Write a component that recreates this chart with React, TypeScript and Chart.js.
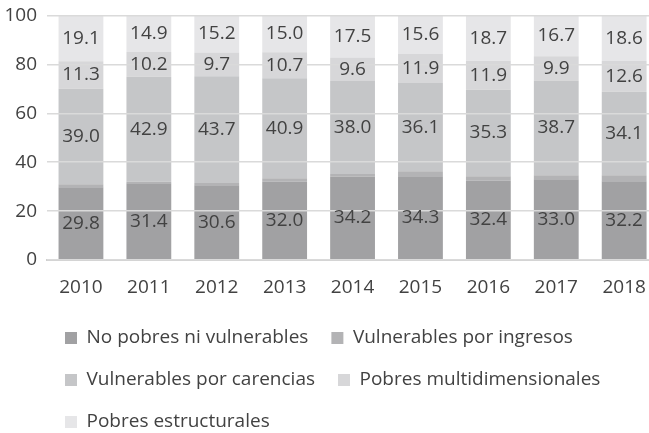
import React, { useEffect, useRef } from "react";
import { Chart, registerables } from "chart.js";

Chart.register(...registerables);

const years = ["2010", "2011", "2012", "2013", "2014", "2015", "2016", "2017", "2018"];
const noPobres = [29.8, 31.4, 30.6, 32.0, 34.2, 34.3, 32.4, 33.0, 32.2];
const vulnIngresos = [1.2, 0.6, 0.9, 1.4, 1.0, 2.0, 1.9, 1.7, 2.5];
const vulnCarencias = [39.0, 42.9, 43.7, 40.9, 38.0, 36.1, 35.3, 38.7, 34.1];
const pobresMulti = [11.3, 10.2, 9.7, 10.7, 9.6, 11.9, 11.9, 9.9, 12.6];
const pobresEstruct = [19.1, 14.9, 15.2, 15.0, 17.5, 15.6, 18.7, 16.7, 18.6];
const yTicks = [0, 20, 40, 60, 80, 100];

const FONT = "'Open Sans', Lato, sans-serif";
const TEXT = "#424242";

const labelPlugin = {
  id: "segLabels",
  afterLayout(chart: any) {
    if (chart.legend) chart.legend.left = 42;
  },
  afterDraw(chart: any) {
    const ctx = chart.ctx;
    ctx.save();
    ctx.font = `19px ${FONT}`;
    ctx.fillStyle = TEXT;
    ctx.textAlign = "center";
    ctx.textBaseline = "middle";
    chart.data.datasets.forEach((ds: any, di: number) => {
      if (!ds.showLabels) return;
      const meta = chart.getDatasetMeta(di);
      meta.data.forEach((el: any, i: number) => {
        const top = Math.max(el.y, chart.chartArea.top);
        const y = (top + el.base) / 2;
        ctx.fillText(Number(ds.data[i]).toFixed(1), el.x, y);
      });
    });
    ctx.restore();
  },
};

export default function App() {
  const ref = useRef<HTMLCanvasElement>(null);
  useEffect(() => {
    const canvas = ref.current!;
    const mk = (label: string, data: number[], color: string, showLabels: boolean) => ({
      label,
      data,
      backgroundColor: color,
      borderWidth: 0,
      barPercentage: 0.66,
      categoryPercentage: 1,
      showLabels,
    });
    const chart = new Chart(canvas, {
      type: "bar",
      data: {
        labels: years,
        datasets: [
          mk("No pobres ni vulnerables", noPobres, "#a1a1a3", true),
          mk("Vulnerables por ingresos", vulnIngresos, "#b3b3b5", false),
          mk("Vulnerables por carencias", vulnCarencias, "#c5c6c8", true),
          mk("Pobres multidimensionales", pobresMulti, "#d7d7d9", true),
          mk("Pobres estructurales", pobresEstruct, "#e6e6e8", true),
        ] as any,
      },
      options: {
        animation: false,
        responsive: false,
        devicePixelRatio: 1,
        layout: { padding: { top: 15.5, left: 0, right: 2, bottom: -8.5 } },
        plugins: {
          legend: {
            position: "bottom",
            align: "start",
            labels: {
              boxWidth: 12,
              boxHeight: 12,
              padding: 23,
              color: TEXT,
              font: { family: FONT, size: 19 },
            },
          },
          tooltip: { enabled: false },
        },
        scales: {
          x: {
            stacked: true,
            grid: { display: false, drawTicks: false },
            border: { display: true, color: "#cfcfcf", width: 2, z: 1 },
            ticks: { color: TEXT, font: { family: FONT, size: 19 }, padding: 16 },
            afterFit: (s: any) => {
              s.height = 45.5;
            },
          },
          y: {
            stacked: true,
            min: 0,
            max: 100,
            afterBuildTicks: (s: any) => {
              s.ticks = yTicks.map((v) => ({ value: v }));
            },
            grid: { color: "#dadada", lineWidth: 1.5, drawTicks: false, z: 1 },
            border: { display: false },
            ticks: { color: TEXT, font: { family: FONT, size: 19, lineHeight: 0.5 }, padding: 10 },
            afterFit: (s: any) => {
              s.width = 47;
            },
          },
        },
      },
      plugins: [labelPlugin],
    });
    return () => chart.destroy();
  }, []);
  return (
    <div
      style={{
        position: "fixed",
        left: 0,
        top: 0,
        width: 649,
        height: 433,
        overflow: "hidden",
        background: "#fff",
      }}
    >
      <canvas ref={ref} width={662} height={433} style={{ display: "block" }} />
    </div>
  );
}
